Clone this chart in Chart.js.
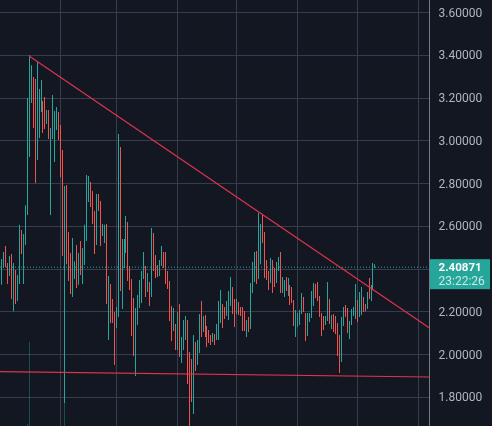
<!DOCTYPE html>
<html>
<head>
<meta charset="utf-8">
<title>Price chart</title>
<script src="https://cdn.jsdelivr.net/npm/chart.js@4"></script>
<style>
    html, body { margin: 0; padding: 0; background: #131722; overflow: hidden; }
    canvas { display: block; }
</style>
</head>
<body>
<canvas id="priceChart" width="492" height="426"></canvas>
<script>
// candle highs, left to right
const highs = [
    2.447, 2.480, 2.508, 2.428, 2.461, 2.470, 2.428, 2.396, 2.372, 2.607,
    2.583, 2.564, 2.699, 3.200, 3.401, 3.354, 3.298, 3.289, 3.369, 3.242,
    3.284, 3.186, 3.205, 3.144, 3.144, 3.060, 3.214, 3.139, 3.158, 3.135,
    3.074, 2.957, 2.789, 2.793, 2.573, 2.475, 2.545, 2.437, 2.513, 2.475,
    2.531, 2.498, 2.607, 2.840, 2.835, 2.807, 2.765, 2.671, 2.751, 2.751,
    2.718, 2.611, 2.607, 2.611, 2.368, 2.330, 2.260, 2.199, 2.222, 3.032,
    2.971, 2.541, 2.541, 2.648, 2.620, 2.414, 2.353, 2.264, 2.218, 2.278,
    2.349, 2.391, 2.480, 2.414, 2.381, 2.339, 2.592, 2.569, 2.466, 2.419,
    2.442, 2.508, 2.480, 2.480, 2.391, 2.344, 2.227, 2.218, 2.143, 2.199,
    2.236, 2.082, 2.162, 2.180, 2.162, 2.012, 1.979, 2.091, 2.059, 2.068,
    2.190, 2.250, 2.180, 2.185, 2.133, 2.115, 2.091, 2.101, 2.096, 2.143,
    2.250, 2.302, 2.236, 2.222, 2.250, 2.297, 2.363, 2.316, 2.260, 2.260,
    2.246, 2.222, 2.222, 2.204, 2.162, 2.176, 2.335, 2.433, 2.480, 2.484,
    2.662, 2.611, 2.653, 2.573, 2.442, 2.391, 2.452, 2.442, 2.405, 2.433,
    2.456, 2.480, 2.363, 2.349, 2.363, 2.358, 2.325, 2.316, 2.255, 2.208,
    2.194, 2.208, 2.288, 2.269, 2.194, 2.194, 2.194, 2.297, 2.335, 2.330,
    2.339, 2.274, 2.194, 2.180, 2.180, 2.339, 2.260, 2.185, 2.190, 2.180,
    2.148, 2.091, 2.176, 2.222, 2.232, 2.218, 2.157, 2.213, 2.222, 2.330,
    2.255, 2.293, 2.316, 2.269, 2.236, 2.293, 2.358, 2.325, 2.428, 2.423
];

// candle lows
const lows = [
    2.326, 2.405, 2.409, 2.330, 2.368, 2.260, 2.203, 2.236, 2.250, 2.330,
    2.470, 2.330, 2.513, 2.653, 2.924, 3.177, 3.060, 2.803, 2.910, 3.013,
    3.135, 3.036, 3.055, 3.079, 3.008, 2.653, 3.008, 2.901, 3.050, 3.004,
    2.830, 2.461, 1.773, 2.423, 2.344, 2.283, 2.269, 2.353, 2.311, 2.326,
    2.372, 2.330, 2.419, 2.531, 2.714, 2.690, 2.611, 2.470, 2.513, 2.671,
    2.508, 2.555, 2.522, 2.236, 2.068, 2.148, 2.148, 1.951, 2.124, 2.176,
    2.297, 2.213, 2.405, 2.475, 2.344, 2.302, 2.087, 1.993, 1.900, 2.138,
    2.218, 2.241, 2.353, 2.269, 2.293, 2.227, 2.269, 2.391, 2.358, 2.363,
    2.368, 2.414, 2.405, 2.330, 2.307, 2.157, 2.063, 2.110, 2.021, 2.021,
    1.989, 1.961, 2.021, 2.068, 1.862, 1.660, 1.778, 1.722, 1.923, 1.951,
    2.007, 2.082, 2.105, 2.082, 2.035, 2.054, 2.045, 2.059, 2.045, 2.068,
    2.068, 2.148, 2.124, 2.166, 2.180, 2.162, 2.227, 2.190, 2.129, 2.190,
    2.185, 2.180, 2.110, 2.110, 2.082, 2.105, 2.119, 2.288, 2.339, 2.330,
    2.353, 2.423, 2.522, 2.358, 2.349, 2.302, 2.335, 2.288, 2.316, 2.335,
    2.391, 2.288, 2.288, 2.269, 2.297, 2.274, 2.232, 2.241, 2.133, 2.082,
    2.129, 2.138, 2.190, 2.199, 2.063, 2.087, 2.152, 2.171, 2.227, 2.265,
    2.250, 2.176, 2.087, 2.115, 2.138, 2.157, 2.143, 2.119, 2.105, 2.096,
    1.993, 1.914, 1.965, 2.133, 2.176, 2.101, 2.073, 2.138, 2.180, 2.166,
    2.152, 2.176, 2.185, 2.199, 2.203, 2.213, 2.260, 2.250, 2.302, 2.405
];

// 1 = up candle, 0 = down candle
const sides = [
    1, 1, 0, 0, 1, 0, 1, 0, 1, 1,
    0, 1, 1, 1, 1, 1, 0, 0, 1, 1,
    1, 0, 0, 1, 0, 1, 1, 1, 1, 0,
    0, 0, 1, 0, 0, 0, 1, 1, 0, 1,
    0, 1, 1, 1, 1, 0, 0, 0, 1, 0,
    0, 1, 1, 0, 1, 0, 0, 0, 1, 1,
    0, 1, 1, 1, 0, 0, 0, 0, 1, 1,
    1, 1, 1, 0, 1, 0, 1, 0, 0, 0,
    1, 1, 0, 0, 0, 0, 0, 1, 0, 1,
    0, 1, 1, 1, 0, 0, 0, 1, 0, 1,
    1, 0, 1, 0, 0, 0, 0, 1, 0, 1,
    1, 1, 0, 0, 1, 1, 1, 0, 0, 1,
    0, 0, 0, 0, 1, 0, 1, 1, 1, 0,
    1, 1, 0, 0, 0, 0, 1, 0, 0, 1,
    1, 0, 1, 1, 0, 1, 0, 0, 0, 1,
    1, 1, 1, 0, 0, 1, 1, 1, 1, 0,
    0, 0, 0, 0, 1, 1, 0, 1, 0, 0,
    0, 0, 1, 1, 0, 0, 1, 1, 1, 1,
    0, 1, 1, 0, 0, 1, 0, 1, 1, 1
];

// faded lower wicks at the left of the chart
const fadedCandles = [13, 14, 32];
const fadedHighs = [1.675, 2.059, 1.773];
const fadedLows = [1.660, 1.660, 1.660];

const priceTicks = [1.8, 2.0, 2.2, 2.4, 2.6, 2.8, 3.0, 3.2, 3.4, 3.6];
const monthTicks = [29.86, 58.2, 89.07, 118.9, 149.8, 180.2, 211.0];

// trend lines
const upperTrendX = [14, 216.6];
const upperTrendY = [3.397, 2.124];
const lowerTrendX = [-0.755, 216.6];
const lowerTrendY = [1.920, 1.895];

const lastPrice = 2.40871;
const countdown = '23:22:26';

const UP_COLOR = '#26a69a';
const DOWN_COLOR = '#ef5350';
const GRID_COLOR = '#363c4e';

const xMin = -0.755;
const xMax = 216.6;

// put each 1px candle on a whole pixel so it stays sharp
const snapCandles = {
    id: 'snapCandles',
    beforeDatasetsDraw(chart) {
        chart.data.datasets.forEach((ds, i) => {
            if (ds.type === 'line') return;
            chart.getDatasetMeta(i).data.forEach(el => {
                el.x = Math.floor(el.x) + 0.5;
            });
        });
    }
};

// teal box on the price axis with last price and countdown
const lastPriceLabel = {
    id: 'lastPriceLabel',
    afterDraw(chart) {
        const ctx = chart.ctx;
        const y = chart.scales.y.getPixelForValue(lastPrice);
        const left = chart.chartArea.right + 0.5;
        ctx.save();
        ctx.fillStyle = UP_COLOR;
        ctx.fillRect(left, y - 8, 60, 30);
        ctx.textBaseline = 'middle';
        ctx.fillStyle = '#ffffff';
        ctx.font = 'bold 11.6px Roboto';
        ctx.fillText(lastPrice.toFixed(5), left + 8.5, y + 0.5);
        ctx.fillStyle = 'rgba(255,255,255,0.75)';
        ctx.font = '12px Roboto';
        ctx.fillText(countdown, left + 8.5, y + 15);
        ctx.restore();
    }
};

const ctx = document.getElementById('priceChart').getContext('2d');
new Chart(ctx, {
    type: 'bar',
    data: {
        datasets: [
            {
                type: 'line',
                data: upperTrendX.map((x, i) => ({ x: x, y: upperTrendY[i] })),
                borderColor: '#e0334c',
                borderWidth: 1.2,
                pointRadius: 0
            },
            {
                type: 'line',
                data: lowerTrendX.map((x, i) => ({ x: x, y: lowerTrendY[i] })),
                borderColor: '#e0334c',
                borderWidth: 1.2,
                pointRadius: 0
            },
            {
                type: 'line',
                data: [{ x: xMin, y: lastPrice }, { x: xMax, y: lastPrice }],
                borderColor: UP_COLOR,
                borderWidth: 1,
                borderDash: [1, 2],
                pointRadius: 0
            },
            {
                data: highs.map((h, i) => ({ x: i, y: [lows[i], h] })),
                backgroundColor: sides.map(s => s ? UP_COLOR : DOWN_COLOR),
                barThickness: 1,
                inflateAmount: 0,
                grouped: false
            },
            {
                data: fadedCandles.map((c, i) => ({ x: c, y: [fadedLows[i], fadedHighs[i]] })),
                backgroundColor: 'rgba(38,166,154,0.4)',
                barThickness: 1,
                inflateAmount: 0,
                grouped: false
            }
        ]
    },
    options: {
        responsive: false,
        animation: false,
        layout: { padding: 0 },
        plugins: {
            legend: { display: false },
            title: { display: false },
            tooltip: { enabled: false }
        },
        scales: {
            x: {
                type: 'linear',
                min: xMin,
                max: xMax,
                offset: false,
                afterBuildTicks: scale => {
                    scale.ticks = monthTicks.map(v => ({ value: v }));
                },
                afterFit: scale => {
                    scale.height = 0;
                    scale.paddingLeft = scale.paddingRight = 0;
                },
                grid: { color: GRID_COLOR, offset: false, drawTicks: false },
                border: { display: false },
                ticks: { display: false }
            },
            y: {
                position: 'right',
                min: 1.6657,
                max: 3.6587,
                afterBuildTicks: scale => {
                    scale.ticks = priceTicks.map(v => ({ value: v }));
                },
                afterFit: scale => {
                    scale.width = 62.5;
                    scale.paddingTop = scale.paddingBottom = 0;
                },
                grid: { color: GRID_COLOR, drawTicks: false },
                border: { color: '#787b86' },
                ticks: {
                    color: '#b2b5be',
                    font: { family: 'Roboto', size: 12 },
                    padding: 9,
                    labelOffset: 1,
                    callback: v => v.toFixed(5)
                }
            }
        }
    },
    plugins: [snapCandles, lastPriceLabel]
});
</script>
</body>
</html>
